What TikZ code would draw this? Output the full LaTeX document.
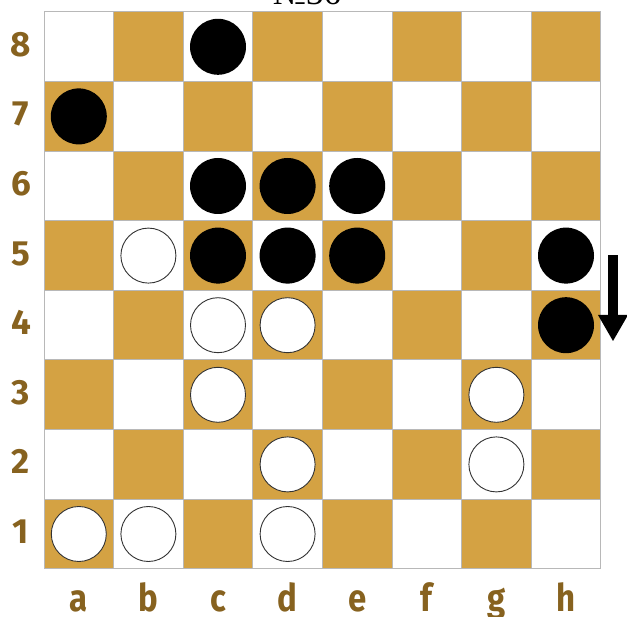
\documentclass[tikz,border=0pt]{standalone}
\usepackage{fontspec}
\usetikzlibrary{calc}
\setmainfont{Liberation Serif}
\newfontfamily\labelfont{Fira Sans}
\definecolor{tan}{HTML}{D4A243}
\definecolor{lbl}{HTML}{87621F}
\definecolor{gridc}{HTML}{B8B8B8}
\begin{document}
\begin{tikzpicture}[x=1pt,y=-1pt,
  blackstone/.style={circle,fill=black,minimum size=56pt,inner sep=0pt},
  whitestone/.style={circle,fill=white,draw=black!80,line width=0.9pt,minimum size=55pt,inner sep=0pt},
  ranklbl/.style={font=\labelfont\fontsize{35}{35}\selectfont\bfseries,text=lbl,anchor=base,inner sep=0pt},
  filelbl/.style={font=\labelfont\fontsize{34}{34}\selectfont\bfseries,text=lbl,anchor=base,inner sep=0pt}]
\useasboundingbox (0,0) rectangle (627,617);
\begin{scope}
\clip (0,0) rectangle (627,617);
\node[anchor=base,inner sep=0pt,font=\fontsize{35}{35}\selectfont] (title) at (307,5) {№36};
\end{scope}
\def\s{69.6}
\foreach \i in {0,...,7}{
  \foreach \r in {1,...,8}{
    \pgfmathtruncatemacro{\parity}{mod(\i+\r,2)}
    \pgfmathsetmacro{\xl}{44+\s*\i}
    \pgfmathsetmacro{\yt}{12+\s*(8-\r)}
    \ifnum\parity=0
      \fill[white] (\xl,\yt) rectangle ++(\s,\s);
    \else
      \fill[tan] (\xl,\yt) rectangle ++(\s,\s);
    \fi
    \coordinate (sq-\i-\r) at ({\xl+\s/2},{\yt+\s/2});
  }
}
\foreach \i in {0,...,8}{
  \draw[gridc,line width=1pt] ({44+\s*\i},12) -- ({44+\s*\i},{12+8*\s});
  \draw[gridc,line width=1pt] (44,{12+\s*\i}) -- ({44+8*\s},{12+\s*\i});
}
\foreach \r in {1,...,8}{
  \node[ranklbl] (rank\r) at (21,{12+\s*(8-\r)+\s/2+9.5}) {\r};
}
\foreach \f [count=\i from 0] in {a,b,c,d,e,f,g,h}{
  \node[filelbl] (file\f) at ({44+\s*\i+\s/2},611) {\scalebox{0.97}[1.12]{\f}};
}
% black stones
\foreach \i/\r in {2/8,0/7,2/6,3/6,4/6,2/5,3/5,4/5,7/5,7/4}{
  \node[blackstone] (b-\i-\r) at (sq-\i-\r) {};
}
% white stones
\foreach \i/\r in {1/5,2/4,3/4,2/3,6/3,3/2,6/2,0/1,1/1,3/1}{
  \node[whitestone] (w-\i-\r) at (sq-\i-\r) {};
}
% arrow
\coordinate (arrS) at (613,255);
\coordinate (arrM) at (613,315);
\coordinate (arrE) at (613,341);
\fill[black] ($(arrS)+(-5,0)$) rectangle ($(arrM)+(5,0)$);
\fill[black] ($(arrM)+(-15,0)$) -- ($(arrM)+(15,0)$) -- (arrE) -- cycle;
\end{tikzpicture}
\end{document}
